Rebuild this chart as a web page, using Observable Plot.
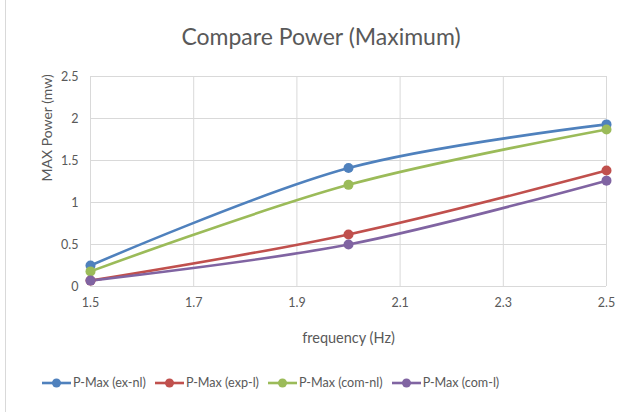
<!DOCTYPE html>
<html><head><meta charset="utf-8">
<script src="https://cdn.jsdelivr.net/npm/d3@7"></script>
<script src="https://cdn.jsdelivr.net/npm/@observablehq/plot@0.6"></script>
<style>
body{margin:0;background:#fff;font-family:Lato,"Open Sans",sans-serif;}
#chart{position:relative;width:630px;height:412px;overflow:hidden;}
#border{position:absolute;left:5px;top:0;width:1px;height:412px;background:#d9d9d9;}
#title{position:absolute;top:22px;left:0;width:642px;text-align:center;font-size:23px;color:#595959;}
#plot{position:absolute;top:60px;left:0;}
#legend{position:absolute;top:375px;left:41px;display:flex;gap:8px;font-size:12.6px;color:#595959;align-items:center;}
.item{display:flex;align-items:center;gap:1px;}
</style></head><body>
<div id="chart">
<div id="border"></div>
<div id="title">Compare Power (Maximum)</div>
<div id="plot"></div>
<div id="legend"></div>
</div>
<script>
const freqs = [1.5, 2.0, 2.5];
const seriesNames = ["P-Max (ex-nl)", "P-Max (exp-l)", "P-Max (com-nl)", "P-Max (com-l)"];
const exNl = [0.25, 1.41, 1.93];
const expL = [0.07, 0.62, 1.38];
const comNl = [0.18, 1.21, 1.87];
const comL = [0.07, 0.50, 1.26];
const colors = ["#4f81bd", "#c0504d", "#9bbb59", "#8064a2"];
const xTicks = [1.5, 1.7, 1.9, 2.1, 2.3, 2.5];
const yTicks = [0, 0.5, 1, 1.5, 2, 2.5];

const allValues = [exNl, expL, comNl, comL];
const data = [];
seriesNames.forEach((s, i) => freqs.forEach((f, j) => data.push({series: s, x: f, y: allValues[i][j]})));

const chart = Plot.plot({
  width: 630, height: 300,
  marginLeft: 90, marginRight: 24, marginTop: 16, marginBottom: 74,
  style: {fontFamily: "Lato, 'Open Sans', sans-serif", fontSize: "12.5px", color: "#595959", background: "transparent"},
  x: {domain: [1.5, 2.5]},
  y: {domain: [0, 2.5]},
  color: {domain: seriesNames, range: colors},
  marks: [
    Plot.gridX(xTicks, {stroke: "#d9d9d9", strokeOpacity: 1, strokeWidth: 1}),
    Plot.gridY(yTicks, {stroke: "#d9d9d9", strokeOpacity: 1, strokeWidth: 1}),
    Plot.axisX(xTicks, {tickSize: 0, tickPadding: 12, tickFormat: d => d.toFixed(1), label: null, fontSize: 12.5, color: "#595959"}),
    Plot.axisY(yTicks, {tickSize: 0, tickPadding: 12, tickFormat: d => String(d), label: null, fontSize: 12.5, color: "#595959"}),
    Plot.text(["frequency (Hz)"], {frameAnchor: "bottom", dy: 52, fontSize: 14.5, fill: "#595959", lineAnchor: "middle"}),
    Plot.text(["MAX Power (mw)"], {frameAnchor: "left", dx: -43, rotate: -90, fontSize: 14, fill: "#595959"}),
    Plot.line(data, {x: "x", y: "y", z: "series", stroke: "series", strokeWidth: 2.6, curve: "catmull-rom"}),
    Plot.dot(data, {x: "x", y: "y", fill: "series", r: 5})
  ]
});
document.getElementById("plot").appendChild(chart);

const legend = document.getElementById("legend");
seriesNames.forEach((s, i) => {
  const item = document.createElement("div");
  item.className = "item";
  item.innerHTML = `<svg width="31" height="12"><line x1="1" x2="30" y1="6" y2="6" stroke="${colors[i]}" stroke-width="2.6"/><circle cx="15.5" cy="6" r="4.5" fill="${colors[i]}"/></svg><span>${s}</span>`;
  legend.appendChild(item);
});
</script>
</body></html>
